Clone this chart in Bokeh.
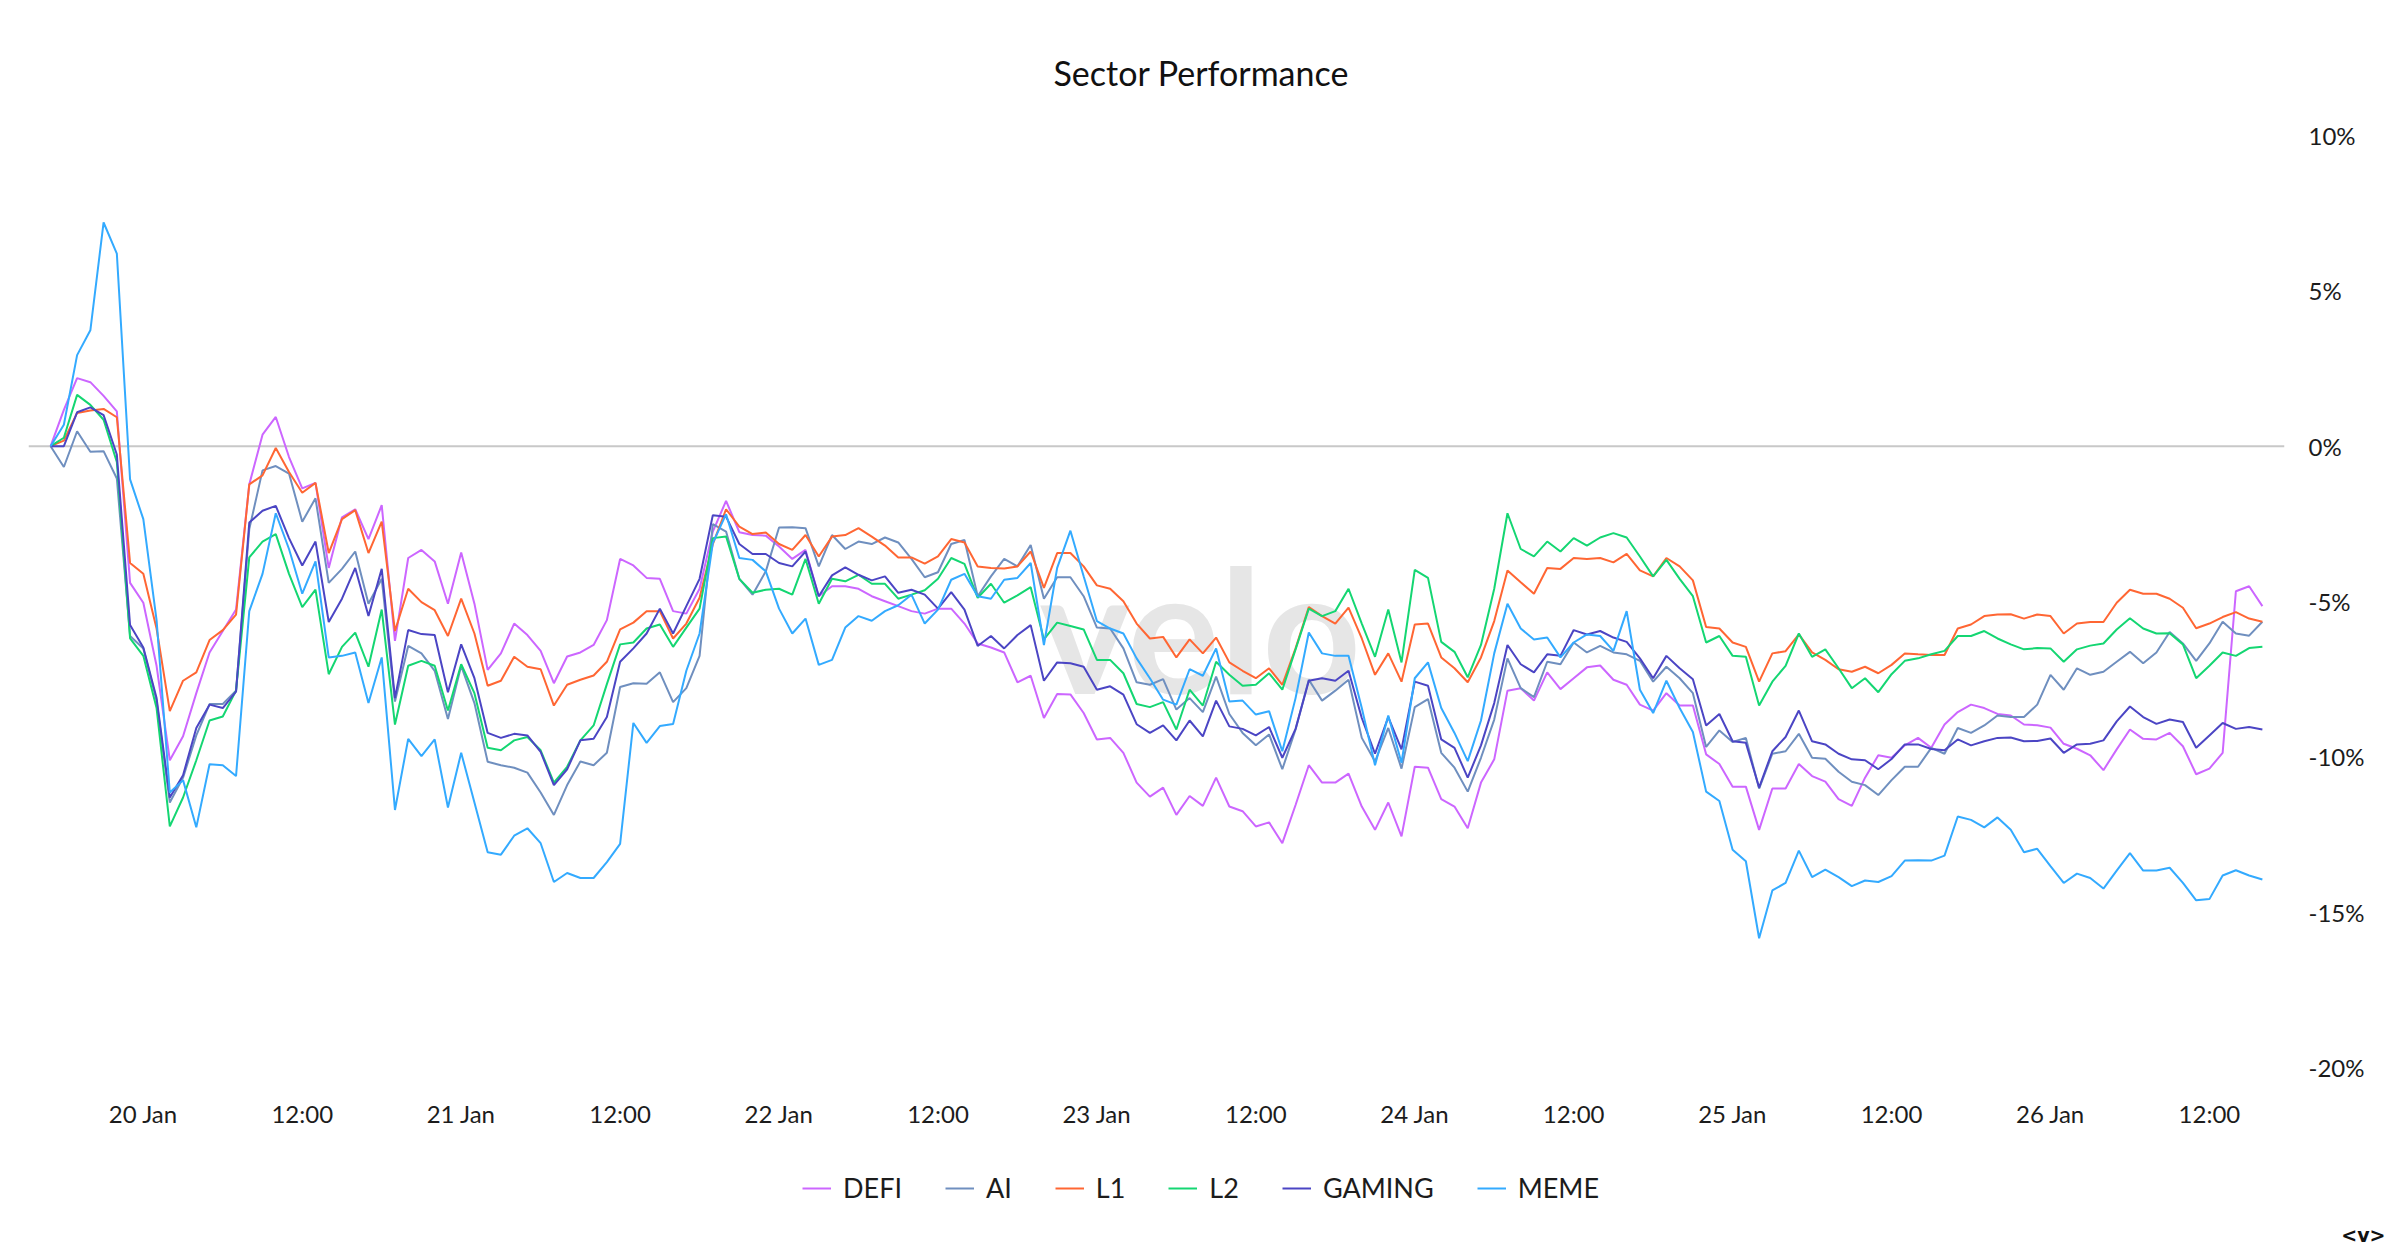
import pandas as pd
from bokeh.plotting import figure
from bokeh.layouts import column
from bokeh.models import (ColumnDataSource, Range1d, FixedTicker, Span, Legend,
                          LegendItem, Label, Title)
from bokeh.embed import file_html
from bokeh.resources import INLINE

# ---------------- data ----------------
start_time = "2025-01-19 17:00"
n_points = 168  # hourly

categories = ["DEFI", "AI", "L1", "L2", "GAMING", "MEME"]
colors = ["#cc66ff", "#6f8fbf", "#ff6633", "#14d672", "#4b45c4", "#33aaff"]

DEFI = [0, 1.17, 2.19, 2.06, 1.62, 1.12, -4.4, -5.04, -7.07, -10.11, -9.34, -7.95, -6.64, -5.95, -5.26, -1.23, 0.37, 0.94, -0.35, -1.36, -1.18, -3.92, -2.29, -2.03, -2.99, -1.9, -6.27, -3.6,
        -3.34, -3.71, -5.07, -3.42, -5.07, -7.2, -6.67, -5.71, -6.08, -6.59, -7.63, -6.77, -6.64, -6.4, -5.6, -3.63, -3.84, -4.24, -4.27, -5.31, -5.39, -4.59, -2.75, -1.76, -2.77, -2.86, -2.88, -3.23, -3.63, -3.34, -4.83,
        -4.51, -4.51, -4.59, -4.83, -4.99, -5.15, -5.31, -5.39, -5.23, -5.23, -5.71, -6.35, -6.48, -6.64, -7.6, -7.39, -8.75, -7.98, -7.99, -8.59, -9.44, -9.39, -9.87, -10.83, -11.28, -10.99, -11.87, -11.26, -11.58, -10.67,
        -11.6, -11.75, -12.24, -12.11, -12.78, -11.55, -10.27, -10.83, -10.83, -10.54, -11.6, -12.35, -11.47, -12.56, -10.32, -10.35, -11.36, -11.6, -12.3, -10.83, -10.08, -7.87, -7.79, -8.19, -7.28, -7.82, -7.47, -7.12, -7.06, -7.52,
        -7.68, -8.32, -8.51, -7.95, -8.35, -8.35, -9.92, -10.23, -10.96, -10.96, -12.35, -11.02, -11.02, -10.23, -10.62, -10.8, -11.36, -11.58, -10.67, -9.95, -10.03, -9.63, -9.39, -9.71, -8.96, -8.56, -8.32, -8.43, -8.62, -8.67,
        -8.96, -8.98, -9.06, -9.58, -9.74, -9.95, -10.43, -9.76, -9.12, -9.42, -9.44, -9.23, -9.66, -10.56, -10.38, -9.87, -4.67, -4.51, -5.15]

AI = [0, -0.67, 0.48, -0.18, -0.16, -1.04, -6.11, -6.51, -8.19, -11.47, -10.67, -9.31, -8.3, -8.3, -7.87, -2.67, -0.78, -0.64, -0.88, -2.43, -1.68, -4.4, -3.95, -3.39, -5.07, -4.27, -8.22, -6.43,
      -6.67, -7.23, -8.78, -7.07, -8.27, -10.16, -10.27, -10.35, -10.51, -11.15, -11.87, -10.91, -10.15, -10.27, -9.87, -7.75, -7.63, -7.65, -7.28, -8.24, -7.79, -6.75, -2.51, -2.75, -4.27, -4.78, -4.03, -2.62, -2.61, -2.64, -3.87,
      -2.86, -3.31, -3.07, -3.15, -2.94, -3.1, -3.63, -4.22, -4.06, -3.15, -3.02, -4.83, -4.19, -3.63, -3.87, -3.18, -4.91, -4.22, -4.22, -4.83, -5.84, -5.87, -6.51, -7.6, -7.68, -7.5, -8.48, -8.11, -8.56, -7.42,
      -8.62, -9.23, -9.63, -9.28, -10.4, -9.12, -7.52, -8.19, -7.87, -7.52, -9.39, -10.15, -9.07, -10.38, -8.4, -8.14, -9.87, -10.35, -11.12, -10.03, -8.8, -6.83, -7.79, -8.08, -6.94, -7.02, -6.32, -6.64, -6.43, -6.64,
      -6.7, -6.91, -7.58, -7.1, -7.47, -7.95, -9.68, -9.15, -9.52, -9.39, -11.02, -9.9, -9.82, -9.26, -10.03, -10.06, -10.48, -10.8, -10.91, -11.23, -10.75, -10.32, -10.32, -9.71, -9.9, -9.07, -9.23, -8.99, -8.67, -8.72,
      -8.72, -8.32, -7.36, -7.84, -7.15, -7.36, -7.26, -6.94, -6.62, -6.99, -6.64, -5.98, -6.35, -6.91, -6.35, -5.65, -6.03, -6.1, -5.65]

L1 = [0, 0.18, 1.07, 1.15, 1.2, 0.93, -3.76, -4.11, -5.87, -8.53, -7.55, -7.28, -6.24, -5.92, -5.42, -1.23, -0.94, -0.06, -0.83, -1.5, -1.18, -3.44, -2.35, -2.06, -3.44, -2.43, -5.95, -4.59,
      -5.02, -5.28, -6.11, -4.91, -6.03, -7.71, -7.55, -6.78, -7.1, -7.18, -8.35, -7.68, -7.52, -7.38, -6.94, -5.9, -5.68, -5.31, -5.31, -6.19, -5.71, -4.88, -3.15, -2.03, -2.59, -2.83, -2.78, -3.15, -3.34, -2.86, -3.55,
      -2.91, -2.86, -2.64, -2.91, -3.2, -3.58, -3.58, -3.78, -3.55, -2.99, -3.1, -3.87, -3.92, -3.94, -3.87, -3.39, -4.56, -3.44, -3.44, -3.87, -4.48, -4.59, -4.99, -5.71, -6.19, -6.14, -6.8, -6.22, -6.67, -6.16,
      -6.96, -7.23, -7.47, -7.15, -7.68, -6.51, -5.18, -5.47, -5.71, -5.2, -6.19, -7.36, -6.67, -7.58, -5.74, -5.71, -6.8, -7.15, -7.6, -6.8, -5.63, -4.0, -4.38, -4.75, -3.92, -3.95, -3.6, -3.63, -3.6, -3.74,
      -3.47, -4.0, -4.19, -3.6, -3.87, -4.32, -5.82, -5.87, -6.32, -6.46, -7.58, -6.67, -6.6, -6.06, -6.64, -6.88, -7.18, -7.26, -7.1, -7.31, -7.04, -6.67, -6.7, -6.72, -6.72, -5.87, -5.74, -5.47, -5.42, -5.41,
      -5.55, -5.42, -5.47, -6.03, -5.71, -5.66, -5.66, -5.04, -4.62, -4.75, -4.75, -4.91, -5.2, -5.86, -5.71, -5.5, -5.34, -5.55, -5.65]

L2 = [0, 0.27, 1.65, 1.33, 0.85, -0.51, -6.19, -6.75, -8.43, -12.24, -11.31, -10.11, -8.83, -8.7, -7.87, -3.58, -3.07, -2.83, -4.11, -5.18, -4.62, -7.34, -6.46, -6.0, -7.1, -5.26, -8.96, -7.07,
      -6.91, -7.07, -8.51, -7.02, -7.95, -9.71, -9.79, -9.47, -9.36, -9.79, -10.83, -10.32, -9.47, -8.99, -7.66, -6.38, -6.32, -5.87, -5.74, -6.46, -5.84, -5.23, -2.96, -2.91, -4.27, -4.72, -4.62, -4.59, -4.78, -3.63, -5.07,
      -4.27, -4.35, -4.14, -4.43, -4.43, -4.91, -4.78, -4.64, -4.27, -3.6, -3.79, -4.88, -4.43, -5.04, -4.8, -4.54, -6.22, -5.68, -5.79, -5.9, -6.88, -6.88, -7.31, -8.3, -8.4, -8.24, -9.12, -7.84, -8.35, -6.94,
      -7.36, -7.71, -7.68, -7.31, -7.84, -6.54, -5.23, -5.47, -5.31, -4.59, -5.71, -6.78, -5.26, -6.96, -3.98, -4.24, -6.3, -6.62, -7.44, -6.4, -4.59, -2.16, -3.31, -3.55, -3.07, -3.39, -2.96, -3.2, -2.94, -2.8,
      -2.94, -3.55, -4.19, -3.66, -4.27, -4.83, -6.32, -6.11, -6.75, -6.78, -8.35, -7.58, -7.07, -6.03, -6.78, -6.54, -7.15, -7.79, -7.47, -7.92, -7.34, -6.91, -6.83, -6.7, -6.59, -6.11, -6.11, -5.95, -6.19, -6.38,
      -6.54, -6.5, -6.51, -6.94, -6.54, -6.42, -6.35, -5.9, -5.54, -5.87, -6.03, -6.02, -6.38, -7.47, -7.07, -6.64, -6.75, -6.5, -6.46]

GAMING = [0, 0, 1.09, 1.25, 1.0, -0.27, -5.76, -6.48, -8.11, -11.31, -10.59, -9.07, -8.32, -8.43, -7.9, -2.46, -2.08, -1.92, -2.96, -3.84, -3.07, -5.66, -4.91, -3.92, -5.47, -3.95, -8.11, -5.92,
          -6.05, -6.08, -7.92, -6.38, -7.47, -9.23, -9.39, -9.26, -9.31, -9.84, -10.91, -10.4, -9.47, -9.42, -8.72, -6.94, -6.51, -6.03, -5.23, -6.03, -5.15, -4.27, -2.22, -2.27, -3.15, -3.47, -3.47, -3.76, -3.87, -3.39, -4.83,
          -4.16, -3.9, -4.14, -4.32, -4.19, -4.72, -4.62, -4.78, -5.23, -4.7, -5.26, -6.43, -6.11, -6.51, -6.08, -5.76, -7.55, -6.96, -6.99, -7.1, -7.84, -7.73, -8.0, -8.95, -9.23, -8.99, -9.47, -8.83, -9.34, -8.19,
          -9.02, -9.1, -9.31, -9.04, -10.03, -9.1, -7.55, -7.47, -7.55, -7.23, -8.75, -9.9, -8.72, -9.76, -7.58, -7.71, -9.44, -9.71, -10.67, -9.63, -8.27, -6.4, -7.02, -7.28, -6.7, -6.75, -5.92, -6.06, -5.95, -6.16,
          -6.3, -6.83, -7.47, -6.75, -7.15, -7.5, -8.99, -8.62, -9.5, -9.55, -10.99, -9.82, -9.36, -8.51, -9.5, -9.6, -9.9, -10.08, -10.11, -10.4, -10.07, -9.6, -9.6, -9.75, -9.79, -9.44, -9.63, -9.5, -9.39, -9.38,
          -9.5, -9.49, -9.41, -9.87, -9.6, -9.58, -9.47, -8.86, -8.38, -8.72, -8.94, -8.8, -8.88, -9.71, -9.31, -8.91, -9.1, -9.04, -9.12]

MEME = [0, 0.69, 2.93, 3.73, 7.2, 6.2, -1.07, -2.35, -5.6, -11.15, -10.75, -12.27, -10.24, -10.27, -10.62, -5.31, -4.11, -2.16, -3.31, -4.75, -3.71, -6.8, -6.75, -6.64, -8.27, -6.8, -11.71, -9.42,
        -9.98, -9.44, -11.63, -9.87, -11.47, -13.07, -13.15, -12.54, -12.3, -12.78, -14.03, -13.74, -13.9, -13.9, -13.39, -12.8, -8.91, -9.55, -9.01, -8.94, -7.23, -6.03, -3.12, -2.19, -3.6, -3.66, -4.03, -5.23, -6.03, -5.55, -7.04,
        -6.88, -5.84, -5.47, -5.62, -5.31, -5.12, -4.78, -5.71, -5.26, -4.3, -4.11, -4.83, -4.91, -4.3, -4.24, -3.76, -6.4, -3.92, -2.72, -4.19, -5.63, -5.87, -6.03, -6.83, -7.47, -8.16, -8.32, -7.18, -7.39, -6.51,
        -8.22, -8.19, -8.64, -8.53, -9.82, -8.11, -6.0, -6.67, -6.75, -6.75, -8.43, -10.27, -8.67, -10.19, -7.47, -6.96, -8.43, -9.23, -10.14, -8.83, -6.67, -5.07, -5.87, -6.22, -6.16, -6.8, -6.32, -6.06, -6.11, -6.59,
        -5.31, -7.84, -8.59, -7.55, -8.43, -9.2, -11.12, -11.42, -12.99, -13.36, -15.84, -14.3, -14.06, -13.02, -13.87, -13.63, -13.87, -14.16, -13.98, -14.03, -13.84, -13.34, -13.33, -13.34, -13.18, -11.92, -12.03, -12.27, -11.95, -12.35,
        -13.07, -12.96, -13.52, -14.06, -13.76, -13.9, -14.24, -13.66, -13.1, -13.66, -13.66, -13.57, -14.06, -14.62, -14.58, -13.82, -13.65, -13.82, -13.95]

tick_start = "2025-01-20 00:00"
tick_labels = ["20 Jan", "12:00", "21 Jan", "12:00", "22 Jan", "12:00", "23 Jan",
               "12:00", "24 Jan", "12:00", "25 Jan", "12:00", "26 Jan", "12:00"]
y_ticks = [-20, -15, -10, -5, 0, 5, 10]
y_labels = ["-20%", "-15%", "-10%", "-5%", "0%", "5%", "10%"]

# ---------------- build ----------------
FONT = "Lato"
TEXT = "#1c1c1c"
MS_H = 3600 * 1000.0
EPOCH = pd.Timestamp("1970-01-01")
NAN = float("nan")

times = pd.date_range(start_time, periods=n_points, freq="h")
x = [float((t - EPOCH) / pd.Timedelta("1ms")) for t in times]
series = dict(zip(categories, [DEFI, AI, L1, L2, GAMING, MEME]))
src = ColumnDataSource(dict(x=x, **series))

tick_x = [float((t - EPOCH) / pd.Timedelta("1ms"))
          for t in pd.date_range(tick_start, periods=len(tick_labels), freq="12h")]

W, H_MAIN, H_FOOT = 2400, 1150, 106
LEFT = 28  # frame left edge (shared by both strips)

pad = 1.67 * MS_H
p = figure(width=W, height=H_MAIN, output_backend="svg", toolbar_location=None,
           x_range=Range1d(x[0] - pad, x[-1] + pad), y_range=Range1d(-20, 10),
           y_axis_location="right",
           min_border_left=LEFT, min_border_right=116, min_border_top=135,
           min_border_bottom=83)
p.outline_line_color = None
p.grid.visible = False
p.background_fill_color = "white"
p.border_fill_color = "white"

p.title.text = "Sector Performance"
p.title.text_font = FONT
p.title.text_font_size = "34px"
p.title.text_font_style = "normal"
p.title.text_color = "#111111"
p.title.align = "left"
p.title.offset = 1025
p.title.standoff = 85

xa = p.xaxis[0]
xa.ticker = FixedTicker(ticks=tick_x)
xa.major_label_overrides = dict(zip(tick_x, tick_labels))
xa.axis_line_color = None
xa.major_tick_line_color = None
xa.minor_tick_line_color = None
xa.major_tick_out = 0
xa.major_tick_in = 0
xa.major_label_standoff = 31
xa.major_label_text_font = FONT
xa.major_label_text_font_size = "24px"
xa.major_label_text_color = TEXT

ya = p.yaxis[0]
ya.ticker = FixedTicker(ticks=y_ticks)
ya.major_label_overrides = dict(zip(y_ticks, y_labels))
ya.axis_line_color = None
ya.major_tick_line_color = None
ya.minor_tick_line_color = None
ya.major_tick_out = 0
ya.major_tick_in = 0
ya.major_label_standoff = 24
ya.major_label_text_font = FONT
ya.major_label_text_font_size = "24px"
ya.major_label_text_color = TEXT

p.add_layout(Span(location=0, dimension="width", line_color="#c8c8c8",
                  line_width=2, level="underlay"))

p.add_layout(Label(x=x[0] + 86.8 * MS_H, y=-5.85, text="velo", text_align="center",
                   text_baseline="middle", text_font=FONT, text_font_style="bold",
                   text_font_size="172px", text_color="#e6e6e6", level="underlay"))

for name, col in zip(categories, colors):
    p.line(x="x", y=name, source=src, line_color=col, line_width=2)

# ---- footer strip: legend + mark ----
f = figure(width=W, height=H_FOOT, output_backend="svg", toolbar_location=None,
           x_range=Range1d(0, 1), y_range=Range1d(0, 1),
           x_axis_location=None, y_axis_location=None, min_border=0)
f.outline_line_color = None
f.grid.visible = False
f.background_fill_color = "white"
f.border_fill_color = "white"

items = []
for name, col in zip(categories, colors):
    r = f.line(x=[NAN, NAN], y=[NAN, NAN], line_color=col, line_width=2)
    items.append(LegendItem(label=name, renderers=[r]))

legend = Legend(items=items, orientation="horizontal", location=(802 - LEFT, 7),
                glyph_width=29, glyph_height=20, label_standoff=12, spacing=43,
                padding=0, margin=0, border_line_color=None,
                background_fill_alpha=0, label_text_font=FONT,
                label_text_font_size="27px", label_text_color=TEXT, label_height=30)
f.add_layout(legend)

mark = Title(text="<v>", align="right", offset=-101, standoff=21,
             vertical_align="bottom", text_font="DejaVu Sans",
             text_font_style="bold", text_font_size="19px", text_color="#111111")
f.add_layout(mark, "below")

open("out.html", "w").write(file_html(column(p, f), INLINE))
